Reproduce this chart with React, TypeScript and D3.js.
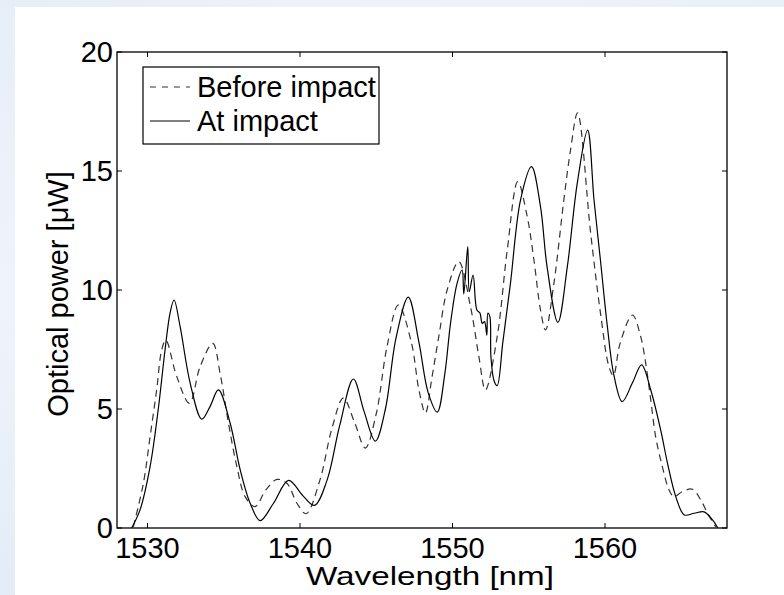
import React from "react";
import * as d3 from "d3";

// ---- Data ----
const beforeWavelength = [
  1529.07, 1529.73, 1530.17, 1530.6, 1530.93, 1531.2, 1531.92, 1532.75, 1533.45, 1534.28,
  1534.76, 1535.31, 1535.86, 1536.4, 1537.06, 1537.76, 1538.49, 1539.14, 1539.8, 1540.4,
  1541.3, 1542.1, 1542.84, 1543.6, 1544.28, 1545.0, 1545.7, 1546.45, 1547.3, 1547.8,
  1548.22, 1548.66, 1549.1, 1549.65, 1550.41, 1551.18, 1551.73, 1552.16, 1552.93, 1553.59,
  1554.28, 1554.9, 1555.34, 1555.77, 1556.1, 1556.65, 1557.3, 1557.74, 1558.2, 1559.06,
  1559.71, 1560.26, 1560.55, 1560.99, 1561.8, 1562.34, 1562.67, 1563.0, 1563.32, 1563.76,
  1564.2, 1564.52, 1565.07, 1565.73, 1566.28, 1566.72, 1567.26,
];
const beforePower = [
  0.05, 1.88, 3.84, 5.8, 7.48, 7.9, 6.36, 5.24, 6.78, 7.76,
  6.5, 4.4, 2.58, 1.32, 0.9, 1.6, 2.04, 1.88, 1.04, 0.6,
  2.0, 4.2, 5.46, 4.4, 3.36, 4.8, 7.6, 9.37, 7.8, 5.8,
  4.83, 6.36, 8.04, 10.0, 11.19, 9.3, 7.2, 5.8, 8.04, 11.68,
  14.55, 13.08, 11.26, 9.16, 8.32, 10.28, 13.78, 15.88, 17.44, 12.38,
  9.0, 6.78, 6.4, 7.76, 8.95, 8.04, 6.92, 5.38, 3.84, 2.58,
  1.6, 1.32, 1.53, 1.63, 1.18, 0.62, 0.05,
];

const atWavelength = [
  1528.96, 1529.51, 1530.17, 1530.7, 1531.15, 1531.48, 1531.74, 1532.14, 1532.8, 1533.56,
  1534.1, 1534.65, 1535.42, 1536.08, 1536.73, 1537.39, 1538.26, 1539.25, 1540.2, 1540.95,
  1541.77, 1542.6, 1543.5, 1544.2, 1544.94, 1545.6, 1546.3, 1547.1, 1547.8, 1548.4,
  1549.0, 1549.5, 1549.87, 1550.3, 1550.63, 1550.74, 1551.0, 1551.1, 1551.35, 1551.6,
  1551.8, 1551.95, 1552.1, 1552.25, 1552.32, 1552.45, 1552.52, 1552.72, 1552.93, 1553.3,
  1553.8, 1554.46, 1555.18, 1555.77, 1556.2, 1556.91, 1557.53, 1558.18, 1558.86, 1559.28,
  1559.71, 1560.15, 1560.59, 1561.13, 1561.8, 1562.4, 1563.0, 1563.65, 1564.1, 1564.64,
  1565.2, 1565.85, 1566.5, 1567.05, 1567.4,
];
const atPower = [
  0, 0.76, 2.58, 4.96, 7.48, 9.03, 9.58, 8.46, 6.08, 4.57,
  5.1, 5.8, 4.4, 2.44, 1.04, 0.31, 1.04, 2.0, 1.35, 0.95,
  2.0, 4.3, 6.26, 4.9, 3.65, 5.0, 8.0, 9.7, 7.8, 5.7,
  4.87, 6.5, 8.6, 10.28, 10.84, 9.83, 11.82, 9.93, 10.63, 9.16,
  9.03, 8.6, 8.67, 8.1, 9.03, 8.88, 7.2, 6.2, 5.98, 7.8,
  10.28, 13.78, 15.18, 13.5, 10.98, 8.64, 10.98, 14.48, 16.72, 13.78,
  11.2, 8.5, 6.4, 5.31, 6.1, 6.85, 5.8, 4.12, 2.72, 1.32,
  0.55, 0.62, 0.68, 0.34, 0,
];

const xTicks = [1530, 1540, 1550, 1560];
const yTicks = [0, 5, 10, 15, 20];
const seriesNames = ["Before impact", "At impact"];
const xLabel = "Wavelength [nm]";
const yLabel = "Optical power [\u03BCW]";

const W = 784;
const H = 595;
const plot = { left: 117, right: 727, top: 52, bottom: 528 };
const FONT = "'Liberation Sans', Arial, Helvetica, sans-serif";

export default function App() {
  const x = d3.scaleLinear().domain([1528, 1568]).range([plot.left, plot.right]);
  const y = d3.scaleLinear().domain([0, 20]).range([plot.bottom, plot.top]);

  const line = d3
    .line<[number, number]>()
    .x((d) => x(d[0]))
    .y((d) => y(Math.max(0, d[1])))
    .curve(d3.curveCatmullRom.alpha(0.5));

  const beforePts: [number, number][] = beforeWavelength.map((w, i) => [w, beforePower[i]]);
  const atPts: [number, number][] = atWavelength.map((w, i) => [w, atPower[i]]);

  const tick = 5;
  const legend = { x: 143, y: 67, w: 236, h: 77 };

  return (
    <svg
      width={W}
      height={H}
      style={{ position: "absolute", left: 0, top: 0, display: "block" }}
      fontFamily={FONT}
    >
      <defs>
        <linearGradient id="bgL" x1="0" y1="0" x2="0" y2="1">
          <stop offset="0" stopColor="#e6eef8" />
          <stop offset="0.5" stopColor="#eef4fb" />
          <stop offset="1" stopColor="#e3ecf7" />
        </linearGradient>
        <linearGradient id="bgT" x1="0" y1="0" x2="1" y2="0">
          <stop offset="0" stopColor="#e6eef8" />
          <stop offset="0.5" stopColor="#edf3fa" />
          <stop offset="1" stopColor="#e8f0f9" />
        </linearGradient>
        <clipPath id="plotclip">
          <rect x={plot.left} y={plot.top} width={plot.right - plot.left} height={plot.bottom - plot.top} />
        </clipPath>
      </defs>
      <rect x={0} y={0} width={W} height={H} fill="#ffffff" />
      <rect x={0} y={0} width={15} height={H} fill="url(#bgL)" />
      <rect x={0} y={0} width={W} height={7} fill="url(#bgT)" />

      {/* curves */}
      <g clipPath="url(#plotclip)" fill="none">
        <path d={line(beforePts) || ""} stroke="#333" strokeWidth={1.2} strokeDasharray="7,5" />
        <path d={line(atPts) || ""} stroke="#000" strokeWidth={1.2} />
      </g>

      {/* frame */}
      <rect
        x={plot.left}
        y={plot.top}
        width={plot.right - plot.left}
        height={plot.bottom - plot.top}
        fill="none"
        stroke="#000"
        strokeWidth={1.3}
      />

      {/* x ticks */}
      {xTicks.map((t) => (
        <g key={"x" + t}>
          <line x1={x(t)} x2={x(t)} y1={plot.bottom} y2={plot.bottom - tick} stroke="#000" strokeWidth={1} />
          <line x1={x(t)} x2={x(t)} y1={plot.top} y2={plot.top + tick} stroke="#000" strokeWidth={1} />
          <text x={x(t)} y={558} fontSize={29} textAnchor="middle" fill="#000">
            {t}
          </text>
        </g>
      ))}

      {/* y ticks */}
      {yTicks.map((t) => (
        <g key={"y" + t}>
          <line x1={plot.left} x2={plot.left + tick} y1={y(t)} y2={y(t)} stroke="#000" strokeWidth={1} />
          <line x1={plot.right} x2={plot.right - tick} y1={y(t)} y2={y(t)} stroke="#000" strokeWidth={1} />
          <text x={113} y={y(t)} dy="0.36em" fontSize={29} textAnchor="end" fill="#000">
            {t}
          </text>
        </g>
      ))}

      {/* axis labels */}
      <text
        x={430}
        y={585}
        fontSize={25}
        textAnchor="middle"
        textLength={248}
        lengthAdjust="spacingAndGlyphs"
        fill="#000"
      >
        {xLabel}
      </text>
      <text
        transform={`translate(68, ${(plot.top + plot.bottom) / 2 + 4}) rotate(-90)`}
        fontSize={29}
        textAnchor="middle"
        fill="#000"
      >
        {yLabel}
      </text>

      {/* legend */}
      <rect x={legend.x} y={legend.y} width={legend.w} height={legend.h} fill="#fff" stroke="#000" strokeWidth={1.2} />
      <line x1={150} x2={190} y1={87} y2={87} stroke="#333" strokeWidth={1.2} strokeDasharray="6,6" />
      <line x1={150} x2={190} y1={121} y2={121} stroke="#000" strokeWidth={1.2} />
      <text x={197} y={87} dy="0.36em" fontSize={29} fill="#000">
        {seriesNames[0]}
      </text>
      <text x={197} y={121} dy="0.36em" fontSize={29} fill="#000">
        {seriesNames[1]}
      </text>
    </svg>
  );
}
